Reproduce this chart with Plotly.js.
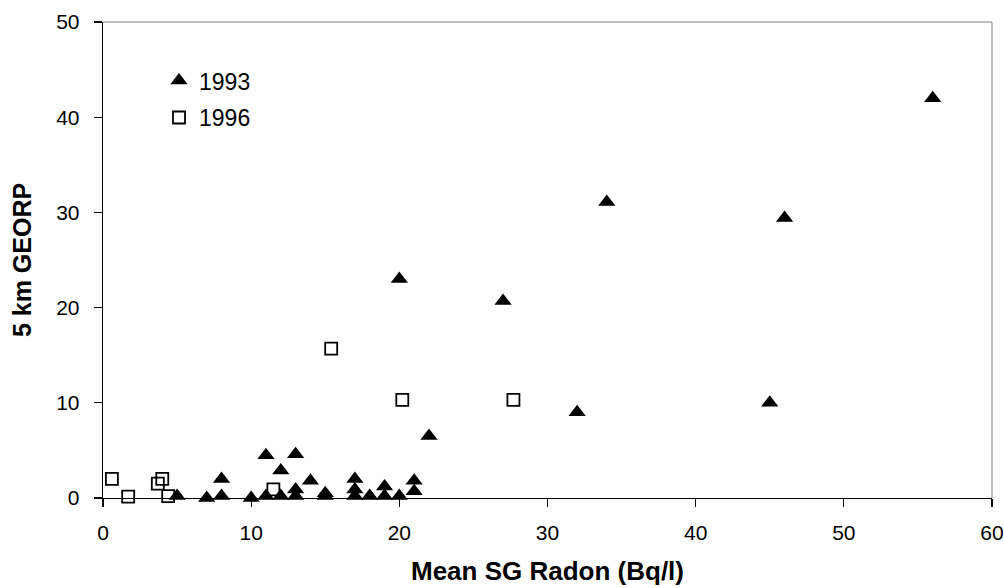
<!DOCTYPE html>
<html>
<head>
<meta charset="utf-8">
<script src="https://cdn.plot.ly/plotly-3.0.1.min.js"></script>
<style>html,body{margin:0;padding:0;background:#fff;}#chart{width:1004px;height:588px;}</style>
</head>
<body>
<div id="chart"></div>
<script>
var x1993 = [5, 7, 8, 8, 10, 11, 11, 12, 12, 13, 13, 13, 14, 15, 15, 17, 17, 17, 18, 19, 19, 20, 20, 21, 21, 22, 27, 32, 34, 45, 46, 56];
var y1993 = [0.2, 0, 0.2, 2, 0, 4.5, 0.2, 2.9, 0.2, 4.6, 0.9, 0.2, 1.8, 0.5, 0.2, 2, 0.9, 0.2, 0.2, 1.2, 0.2, 23, 0.2, 1.8, 0.7, 6.5, 20.7, 9, 31.1, 10, 29.4, 42];
var x1996 = [0.6, 1.7, 3.7, 4.0, 4.4, 11.5, 15.4, 20.2, 27.7];
var y1996 = [2.0, 0.15, 1.5, 2.0, 0.2, 0.9, 15.7, 10.3, 10.3];
var seriesNames = ['1993', '1996'];
var xTitle = 'Mean SG Radon (Bq/l)';
var yTitle = '5 km GEORP';

var FONT = 'Arial, "Liberation Sans", sans-serif';

var traces = [
  {x: x1993, y: y1993, name: seriesNames[0], type: 'scatter', mode: 'markers', cliponaxis: false,
   legendgroup: 'a',
   marker: {symbol: 'triangle-up', size: 15, color: '#000000', line: {width: 0}}},
  {x: x1996, y: y1996, name: seriesNames[1], type: 'scatter', mode: 'markers', cliponaxis: false,
   legendgroup: 'b',
   marker: {symbol: 'square-open', size: 12, color: '#000000', line: {width: 1.8, color: '#000000'}}}
];

var layout = {
  width: 1004, height: 588,
  margin: {l: 103, r: 12, t: 22, b: 90},
  paper_bgcolor: '#ffffff', plot_bgcolor: '#ffffff',
  font: {family: FONT, color: '#000000', size: 21},
  showlegend: true,
  legend: {x: 0.063, y: 0.922, xanchor: 'left', yanchor: 'top', bgcolor: 'rgba(0,0,0,0)',
           font: {family: FONT, size: 23, color: '#000'}, tracegroupgap: 4, itemwidth: 30},
  xaxis: {range: [0, 60], dtick: 10, tick0: 0, showgrid: false, zeroline: false,
          showline: true, linecolor: '#000', linewidth: 1.3,
          ticks: 'outside', ticklen: 8, tickwidth: 1.3, tickcolor: '#000',
          ticklabelstandoff: 7,
          tickfont: {family: FONT, size: 21, color: '#000'},
          title: {text: xTitle, font: {family: FONT, size: 26, color: '#000', weight: 'bold'}, standoff: 19},
          automargin: false, fixedrange: true},
  yaxis: {range: [0, 50], dtick: 10, tick0: 0, showgrid: false, zeroline: false,
          showline: true, linecolor: '#000', linewidth: 1.3,
          ticks: 'outside', ticklen: 8, tickwidth: 1.3, tickcolor: '#000',
          ticklabelstandoff: 10,
          tickfont: {family: FONT, size: 21, color: '#000'},
          title: {text: yTitle, font: {family: FONT, size: 25, color: '#000', weight: 'bold'}, standoff: 17},
          automargin: false, fixedrange: true},
  shapes: [
    {type: 'line', xref: 'paper', yref: 'paper', x0: 0, x1: 1, y0: 1, y1: 1, line: {color: '#808080', width: 1}},
    {type: 'line', xref: 'paper', yref: 'paper', x0: 1, x1: 1, y0: 0, y1: 1, line: {color: '#808080', width: 1}}
  ]
};

Plotly.newPlot('chart', traces, layout, {displayModeBar: false, staticPlot: true});
</script>
</body>
</html>
